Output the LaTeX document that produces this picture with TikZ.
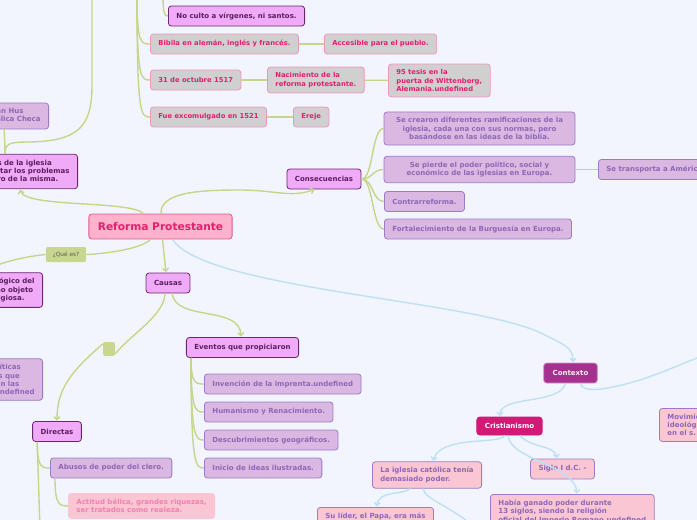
\documentclass[tikz,border=0pt]{standalone}
\usepackage{fontspec}
\setmainfont{DejaVu Sans}
\usetikzlibrary{arrows.meta}

\definecolor{fondo}{RGB}{243,245,254}
\definecolor{verde}{RGB}{197,214,138}
\definecolor{celeste}{RGB}{190,224,245}
\definecolor{rosacentro}{RGB}{255,178,204}
\definecolor{rosaborde}{RGB}{224,88,140}
\definecolor{carmin}{RGB}{226,32,110}
\definecolor{malva}{RGB}{240,170,248}
\definecolor{malvaborde}{RGB}{106,40,110}
\definecolor{malvatexto}{RGB}{90,30,95}
\definecolor{lila}{RGB}{218,184,226}
\definecolor{lilaborde}{RGB}{155,122,200}
\definecolor{lilatexto}{RGB}{140,104,182}
\definecolor{gris}{RGB}{208,208,208}
\definecolor{rosaclaro}{RGB}{240,150,190}
\definecolor{salmon}{RGB}{250,198,212}
\definecolor{rosatexto}{RGB}{240,128,176}
\definecolor{morado}{RGB}{166,48,144}
\definecolor{fucsia}{RGB}{208,26,118}
\definecolor{etiqueta}{RGB}{200,215,142}

\tikzset{
  caja/.style={rounded corners=3pt, line width=0.8pt, inner xsep=8pt, inner ysep=5.5pt,
    minimum height=20pt, font=\fontsize{7}{8.3}\selectfont\bfseries},
  central/.style={caja, fill=rosacentro, draw=rosaborde, text=carmin,
    font=\fontsize{10.6}{12}\selectfont\bfseries, minimum height=25pt, inner xsep=9pt},
  principal/.style={caja, fill=malva, draw=malvaborde, text=malvatexto},
  hoja/.style={caja, fill=lila, draw=lilaborde, text=lilatexto, align=center},
  dato/.style={caja, fill=gris, draw=rosaclaro, text=carmin, align=left,
    font=\fontsize{6.8}{8.3}\selectfont\bfseries},
  nota/.style={caja, fill=salmon, draw=lilaborde, text=lilatexto, align=left},
  apunte/.style={caja, fill=salmon, draw=salmon, text=rosatexto, align=left},
  rotulo/.style={rounded corners=2pt, fill=etiqueta, text=black!65, inner xsep=7pt,
    inner ysep=2pt, minimum height=15pt, font=\fontsize{5.8}{7}\selectfont},
  rama/.style={draw=verde, line width=1.4pt},
  hilo/.style={draw=celeste, line width=1.4pt},
  flecha/.style={-{Straight Barb[length=3pt,width=6pt]}, shorten >=0.5pt}
}

\begin{document}
\begin{tikzpicture}[x=1pt,y=-1pt]
\useasboundingbox (0,0) rectangle (697,520);
\fill[fondo] (0,0) rectangle (697,520);
\clip (0,0) rectangle (697,520);

\coordinate (arribaIzq) at (92,-5);
\coordinate (arribaA) at (137,-5);
\coordinate (arribaB) at (163,-5);
\coordinate (izqQue) at (-5,266);
\coordinate (abajoDir) at (40,530);
\coordinate (abajoIgl) at (478,530);
\coordinate (derCtx) at (705,355);

\node[principal, anchor=west] (noculto) at (168,16) {No culto a vírgenes, ni santos.};
\node[dato, anchor=west] (biblia) at (150,44) {Bibila en alemán, inglés y francés.};
\node[dato, anchor=west] (accesible) at (324,44) {Accesible para el pueblo.};
\node[dato, anchor=west] (octubre) at (150,80) {31 de octubre 1517};
\node[dato, anchor=west] (nacimiento) at (267,80) {Nacimiento de la\\reforma protestante.};
\node[dato, anchor=west] (tesis) at (388,80.5) {95 tesis en la\\puerta de Wittenberg,\\Alemania.undefined};
\node[dato, anchor=west] (excomulgado) at (150,117) {Fue excomulgado en 1521};
\node[dato, anchor=west] (ereje) at (293,117) {Ereje};

\node[hoja, anchor=east] (hus) at (49,116) {Juan Hus\\Evangélica Checa};
\node[principal, anchor=east, align=left] (iglesia) at (78,171.5) {Esfuerzos de la iglesia\\por afrontar los problemas\\y el centro de la misma.};

\node[central] (reforma) at (160.5,226.5) {Reforma Protestante};
\node[rotulo] (quees) at (66,254.5) {¿Qué es?};
\node[principal, anchor=east, align=left] (teologico) at (43,290) {Un movimiento teológico del\\s. XVI que tuvo como objeto\\toda renovación religiosa.};

\node[principal] (consecuencias) at (324,179) {Consecuencias};
\node[hoja, minimum width=191pt] (crearon) at (479.5,128.5) {Se crearon diferentes ramificaciones de la\\iglesia, cada una con sus normas, pero\\basándose en las ideas de la biblia.};
\node[hoja, minimum width=191pt] (pierde) at (479.5,169.5) {Se pierde el poder político, social y\\económico de las iglesias en Europa.};
\node[hoja, anchor=west] (contra) at (384,201.5) {Contrarreforma.};
\node[hoja, anchor=west] (burguesia) at (384,229) {Fortalecimiento de la Burguesía en Europa.};
\node[hoja, anchor=west] (transporta) at (598,169.5) {Se transporta a América.};

\node[principal] (causas) at (168,283) {Causas};
\node[rotulo, minimum width=12pt, minimum height=14pt, inner sep=0pt] (cuadro) at (109,349) {};
\node[hoja, anchor=east] (politicas) at (43,379.5) {Crisis políticas\\y sociales que\\generaron las\\la Reforma.undefined};

\node[principal] (eventos) at (242.5,347.5) {Eventos que propiciaron};
\node[hoja, anchor=west] (imprenta) at (204,384) {Invención de la imprenta.undefined};
\node[hoja, anchor=west] (humanismo) at (204,412) {Humanismo y Renacimiento.};
\node[hoja, anchor=west] (descubrimientos) at (204,440) {Descubrimientos geográficos.};
\node[hoja, anchor=west] (ilustradas) at (204,468) {Inicio de ideas ilustradas.};

\node[principal] (directas) at (57,431.5) {Directas};
\node[hoja, anchor=west] (abusos) at (50,468) {Abusos de poder del clero.};
\node[apunte, anchor=north west] (actitud) at (68,493) {Actitud bélica, grandes riquezas,\\ser tratados como realeza.};

\node[caja, fill=morado, draw=morado!50!white, text=pink!30, inner xsep=9pt] (contexto) at (570.5,373) {Contexto};
\node[caja, fill=fucsia, draw=fucsia, text=white, minimum height=18pt] (cristianismo) at (509.5,426) {Cristianismo};
\node[nota, anchor=west] (iglesiacat) at (372,475) {La iglesia católica tenía\\demasiado poder.};
\node[nota] (siglo) at (562.5,469) {Siglo I d.C. -};
\node[nota, anchor=north west] (habia) at (490,494) {Había ganado poder durante\\13 siglos, siendo la religión\\oficial del Imperio Romano.undefined};
\node[nota, anchor=north west] (sulider) at (317,507) {Su líder, el Papa, era más\\poderoso que los reyes.};
\node[nota, anchor=west] (movimiento) at (659,425) {Movimiento intelectual\\ideológico y cultural\\en el s. XV.};

\draw[rama] (arribaB) .. controls (163,12) and (164,16) .. (noculto.west);
\foreach \hijo in {biblia,octubre,excomulgado}
  \draw[rama] (arribaA) .. controls (arribaA |- \hijo.west) and ([xshift=-9pt]\hijo.west) .. (\hijo.west);
\draw[rama] (biblia) -- (accesible);
\draw[rama] (octubre) -- (nacimiento);
\draw[rama] (nacimiento) -- (tesis);
\draw[rama] (excomulgado) -- (ereje);

\draw[rama] ([xshift=-73pt]iglesia.north east) .. controls (5,143) and (10,142) .. (30,142)
  .. controls (80,141) and (92,125) .. (92,85) -- (arribaIzq);
\draw[rama] ([xshift=-2pt]hus.south) .. controls +(0,8) and (5,142) .. ([xshift=-73pt]iglesia.north east);

\draw[rama, flecha] ([xshift=-17pt]reforma.north) .. controls (130,200) and (25,208) .. ([xshift=-58pt]iglesia.south east);
\draw[rama] ([xshift=-10pt]reforma.south) .. controls (140,250) and (100,254) .. (quees.east);
\draw[rama] (quees.west) .. controls (30,256) and (10,260) .. (izqQue);
\draw[rama, flecha] ([xshift=0.5pt]reforma.north) .. controls (160,192) and (200,190) .. (240,190)
  .. controls (275,190) and (290,198) .. ([xshift=-9pt]consecuencias.south);
\draw[rama, flecha] ([xshift=2pt]reforma.south) -- ([xshift=-2pt]causas.north);
\draw[hilo, flecha] ([xshift=12pt]reforma.south) .. controls (205,290) and (480,300) .. (545,335)
  .. controls (565,345) and (573,348) .. ([xshift=2.5pt]contexto.north);

\foreach \hijo in {crearon,pierde,contra,burguesia}
  \draw[rama] (consecuencias.east) .. controls +(12,0) and +(-12,0) .. (\hijo.west);
\draw[rama] (pierde) -- (transporta);

\draw[rama, flecha] ([xshift=4pt]causas.south) .. controls (176,322) and (240,305) .. ([xshift=-1.5pt]eventos.north);
\draw[rama] ([xshift=-3pt]causas.south) .. controls (165,315) and (130,335) .. ([yshift=-5pt]cuadro.east);
\draw[rama, flecha] ([yshift=5pt]cuadro.west) .. controls (70,372) and (57,390) .. (directas.north);

\foreach \hijo in {imprenta,humanismo,descubrimientos,ilustradas}
  \draw[rama] ([xshift=5pt]eventos.south west) .. controls ([xshift=5pt]eventos.south west |- \hijo.west) and ([xshift=-8pt]\hijo.west) .. (\hijo.west);

\draw[rama] ([xshift=5pt]directas.south west) .. controls ([xshift=5pt]directas.south west |- abusos.west) and ([xshift=-8pt]abusos.west) .. (abusos.west);
\draw[rama] ([xshift=5pt]directas.south west) -- (abajoDir);
\draw[rama] ([xshift=5pt]abusos.south west) .. controls ([xshift=5pt]abusos.south west |- actitud.west) and ([xshift=-8pt]actitud.west) .. (actitud.west);

\draw[hilo, flecha] ([xshift=-5pt]contexto.south) .. controls (560,405) and (500,395) .. ([xshift=-9.5pt]cristianismo.north);
\draw[hilo] ([xshift=10pt]contexto.south) .. controls (582,392) and (600,392) .. (640,380)
  .. controls (670,370) and (690,360) .. (derCtx);
\draw[hilo, flecha] ([xshift=-4.5pt]cristianismo.south) .. controls (500,445) and (440,435) .. ([xshift=6pt]iglesiacat.north);
\draw[hilo, flecha] ([xshift=10.5pt]cristianismo.south) .. controls (530,448) and (555,445) .. ([xshift=-5.5pt]siglo.north);
\draw[hilo, flecha] ([xshift=-1.5pt]cristianismo.south) .. controls (510,460) and (575,465) .. ([xshift=87pt]habia.north west);
\draw[hilo, flecha] ([xshift=-17pt]iglesiacat.south) .. controls (405,495) and (378,490) .. ([xshift=60pt]sulider.north west);
\draw[hilo] ([xshift=-4pt]iglesiacat.south) .. controls (425,500) and (450,505) .. (abajoIgl);

\end{tikzpicture}
\end{document}
